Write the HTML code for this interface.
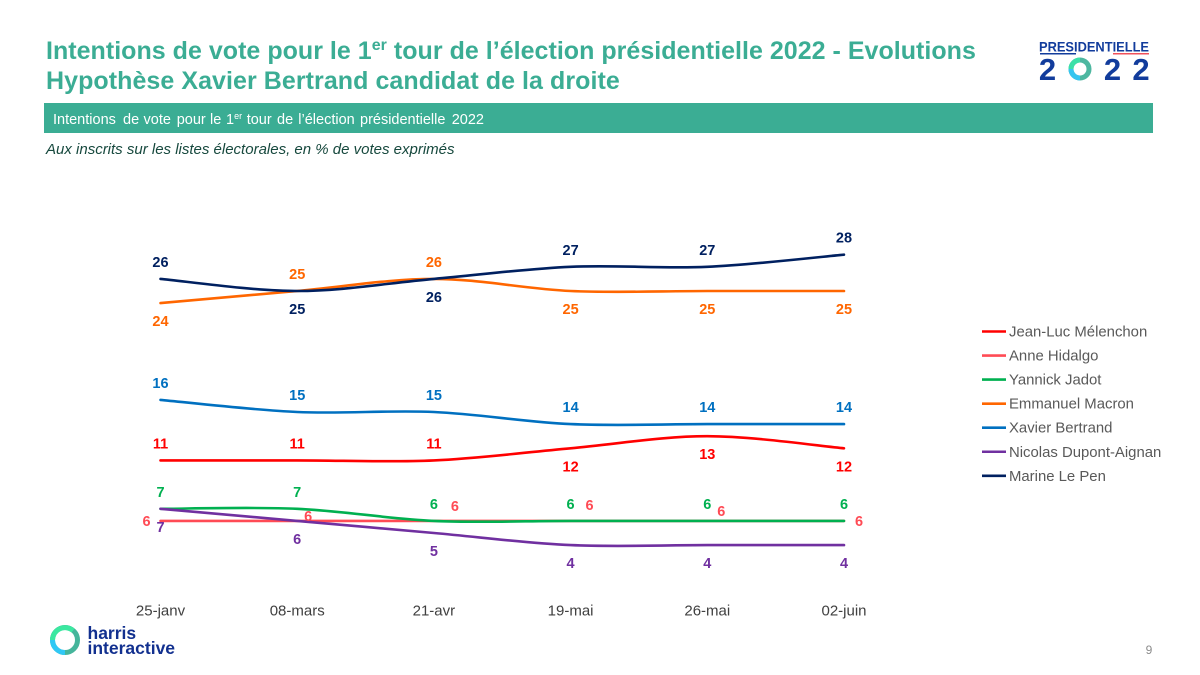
<!DOCTYPE html>
<html lang="fr">
<head>
<meta charset="utf-8">
<title>Intentions de vote</title>
<style>
html,body{margin:0;padding:0;background:#fff}
svg{display:block;font-family:"Liberation Sans",Arial,sans-serif}
</style>
</head>
<body>
<svg id="chart" xmlns="http://www.w3.org/2000/svg" width="1200" height="675" viewBox="0 0 1200 675">
  <rect width="1200" height="675" fill="#fff"/>
  <text x="46" y="59" font-size="25" font-weight="700" letter-spacing="0.025" fill="#3BAD94">Intentions de vote pour le 1<tspan font-size="16" dy="-9">er</tspan><tspan dy="9"> tour de l’élection présidentielle 2022 - Evolutions</tspan></text>
  <text x="46" y="89" font-size="25" font-weight="700" letter-spacing="0.06" fill="#3BAD94">Hypothèse Xavier Bertrand candidat de la droite</text>
  <rect x="44" y="103" width="1109" height="30" fill="#3BAD94"/>
  <text y="124" font-size="14.5" fill="#fff"><tspan x="53">Intentions</tspan><tspan x="123">de</tspan><tspan x="143.5">vote</tspan><tspan x="176.7">pour</tspan><tspan x="210">le</tspan><tspan x="226">1</tspan><tspan font-size="9" dy="-5">er</tspan><tspan x="246.7" dy="5">tour</tspan><tspan x="277">de</tspan><tspan x="298.3">l’élection</tspan><tspan x="360">présidentielle</tspan><tspan x="451.7">2022</tspan></text>
  <text x="46" y="154" font-size="15" font-style="italic" fill="#17493E">Aux inscrits sur les listes électorales, en % de votes exprimés</text>

  <g id="series-layer" fill="none"></g>
  <g id="label-layer" font-size="14.5" font-weight="700" text-anchor="middle"></g>
  <g id="axis-layer" font-size="15" fill="#404040" text-anchor="middle"></g>
  <g id="legend-layer" font-size="14.9" fill="#595959"></g>

  <g>
    <text x="1039" y="51.5" font-size="14" font-weight="700" fill="#123C9C" textLength="110" lengthAdjust="spacingAndGlyphs">PRESIDENTIELLE</text>
    <rect x="1040" y="53" width="36" height="1.5" fill="#123C9C"/>
    <rect x="1113" y="53" width="36" height="1.5" fill="#F0505A"/>
    <text x="1047.5" y="80" font-size="31" font-weight="700" fill="#123C9C" text-anchor="middle">2</text>
    <circle cx="1080" cy="69" r="9" fill="none" stroke="#4DB7A0" stroke-width="5"/>
    <path d="M1071 69A9 9 0 0 1 1080 60" fill="none" stroke="#3BE0A8" stroke-width="5"/>
    <path d="M1071 69A9 9 0 0 0 1080 78" fill="none" stroke="#35C5F0" stroke-width="5"/>
    <text x="1112.5" y="80" font-size="31" font-weight="700" fill="#123C9C" text-anchor="middle">2</text>
    <text x="1141" y="80" font-size="31" font-weight="700" fill="#123C9C" text-anchor="middle">2</text>
  </g>

  <g>
    <circle cx="65" cy="640" r="12.5" fill="none" stroke="#45B59B" stroke-width="5"/>
    <path d="M52.5 640A12.5 12.5 0 0 1 73 630.5" fill="none" stroke="#3BE8A0" stroke-width="5"/>
    <path d="M52.5 640A12.5 12.5 0 0 0 65 652.5" fill="none" stroke="#30C8F5" stroke-width="5"/>
    <text x="87.5" y="639" font-size="17.5" font-weight="700" fill="#12308F">harris</text>
    <text x="87.5" y="654" font-size="17.5" font-weight="700" fill="#12308F">interactive</text>
  </g>
  <text x="1149" y="654" font-size="12" fill="#8C8C8C" text-anchor="middle">9</text>
</svg>
<script>
const categories = ["25-janv", "08-mars", "21-avr", "19-mai", "26-mai", "02-juin"];
const seriesNames = ["Jean-Luc Mélenchon", "Anne Hidalgo", "Yannick Jadot", "Emmanuel Macron", "Xavier Bertrand", "Nicolas Dupont-Aignan", "Marine Le Pen"];
const melenchon = [11, 11, 11, 12, 13, 12];
const hidalgo = [6, 6, 6, 6, 6, 6];
const jadot = [7, 7, 6, 6, 6, 6];
const macron = [24, 25, 26, 25, 25, 25];
const bertrand = [16, 15, 15, 14, 14, 14];
const dupontAignan = [7, 6, 5, 4, 4, 4];
const lePen = [26, 25, 26, 27, 27, 28];

const seriesValues = [melenchon, hidalgo, jadot, macron, bertrand, dupontAignan, lePen];
const seriesColors = ["#FF0000", "#FF4B55", "#00B050", "#FF6600", "#0070C0", "#7030A0", "#002060"];
const seriesKeys = ["melenchon", "hidalgo", "jadot", "macron", "bertrand", "dupont-aignan", "le-pen"];

/* Label placement relative to each point: side (+1 below / -1 above) and Hidalgo's manual nudges. */
const labelSides = [
  [-1, -1, -1, 1, 1, 1],
  [0, 0, 0, 0, 0, 0],
  [-1, -1, -1, -1, -1, -1],
  [1, -1, -1, 1, 1, 1],
  [-1, -1, -1, -1, -1, -1],
  [1, 1, 1, 1, 1, 1],
  [-1, 1, 1, -1, -1, -1]
];
const hidalgoNudgeX = [-14, 11, 21, 19, 14, 15];
const hidalgoNudgeY = [0, -5, -15, -16, -10, 0];

const svgNS = "http://www.w3.org/2000/svg";
const xScale = i => 160.5 + 136.7 * i;
const yScale = v => 593.5 - 12.1 * v;

function smoothPath(values) {
  const pts = values.map((v, i) => [xScale(i), yScale(v)]);
  let d = "M" + pts[0][0].toFixed(1) + " " + pts[0][1].toFixed(1);
  for (let i = 0; i < pts.length - 1; i++) {
    const p0 = pts[Math.max(i - 1, 0)];
    const p1 = pts[i];
    const p2 = pts[i + 1];
    const p3 = pts[Math.min(i + 2, pts.length - 1)];
    const c1x = p1[0] + (p2[0] - p0[0]) / 6;
    const c1y = p1[1] + (p2[1] - p0[1]) / 6;
    const c2x = p2[0] - (p3[0] - p1[0]) / 6;
    const c2y = p2[1] - (p3[1] - p1[1]) / 6;
    d += "C" + [c1x, c1y, c2x, c2y, p2[0], p2[1]].map(n => n.toFixed(1)).join(" ");
  }
  return d;
}

const seriesLayer = document.getElementById("series-layer");
const labelLayer = document.getElementById("label-layer");
const axisLayer = document.getElementById("axis-layer");
const legendLayer = document.getElementById("legend-layer");

seriesValues.forEach((values, s) => {
  const line = document.createElementNS(svgNS, "path");
  line.setAttribute("d", smoothPath(values));
  line.setAttribute("stroke", seriesColors[s]);
  line.setAttribute("stroke-width", "2.6");
  line.setAttribute("stroke-linecap", "round");
  
  
  seriesLayer.appendChild(line);

  values.forEach((v, i) => {
    const label = document.createElementNS(svgNS, "text");
    const isHidalgo = s === 1;
    const side = labelSides[s][i];
    const lx = xScale(i) + (isHidalgo ? hidalgoNudgeX[i] : 0);
    const ly = yScale(v) + (isHidalgo ? hidalgoNudgeY[i] + 5 : (side > 0 ? 23 : -12));
    label.setAttribute("x", lx.toFixed(1));
    label.setAttribute("y", ly.toFixed(1));
    label.setAttribute("fill", seriesColors[s]);
    label.textContent = v;
    
    
    labelLayer.appendChild(label);
  });

  const ly = 331.5 + 24.05 * s;
  const swatch = document.createElementNS(svgNS, "line");
  swatch.setAttribute("x1", "982");
  swatch.setAttribute("x2", "1006");
  swatch.setAttribute("y1", ly);
  swatch.setAttribute("y2", ly);
  swatch.setAttribute("stroke", seriesColors[s]);
  swatch.setAttribute("stroke-width", "2.6");
  
  
  legendLayer.appendChild(swatch);

  const entry = document.createElementNS(svgNS, "text");
  entry.setAttribute("x", "1009");
  entry.setAttribute("y", ly + 5);
  entry.textContent = seriesNames[s];
  
  
  legendLayer.appendChild(entry);
});

categories.forEach((c, i) => {
  const tick = document.createElementNS(svgNS, "text");
  tick.setAttribute("x", xScale(i).toFixed(1));
  tick.setAttribute("y", "615.5");
  tick.textContent = c;
  
  
  axisLayer.appendChild(tick);
});
</script>
</body>
</html>
